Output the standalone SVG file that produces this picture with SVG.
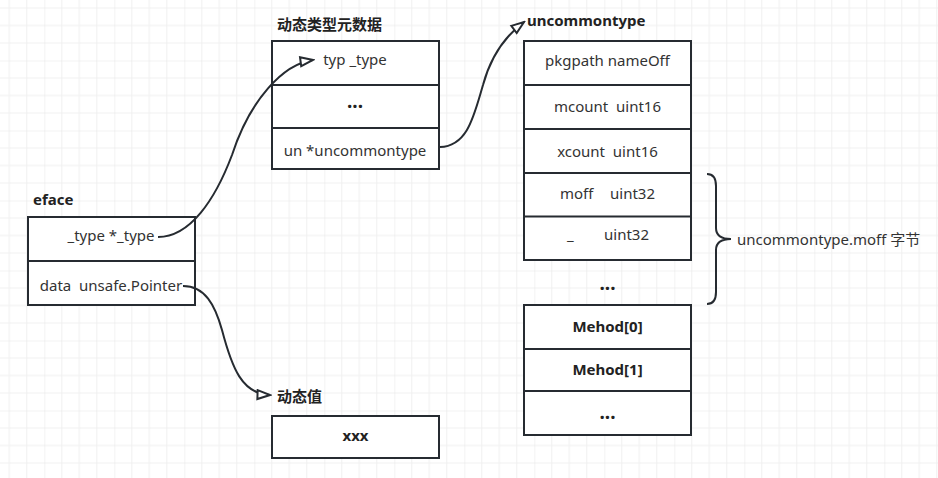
<svg xmlns="http://www.w3.org/2000/svg" width="938" height="478" viewBox="0 0 938 478">
  <defs>
    <pattern id="grid" x="-25.7" y="-9.5" width="70" height="70" patternUnits="userSpaceOnUse">
      <rect x="17" y="0" width="1" height="70" fill="#f0f0f0"/>
      <rect x="34.5" y="0" width="1" height="70" fill="#f0f0f0"/>
      <rect x="52" y="0" width="1" height="70" fill="#f0f0f0"/>
      <rect x="0" y="17" width="70" height="1" fill="#f0f0f0"/>
      <rect x="0" y="34.5" width="70" height="1" fill="#f0f0f0"/>
      <rect x="0" y="52" width="70" height="1" fill="#f0f0f0"/>
      <rect x="-0.5" y="0" width="1" height="70" fill="#e6e6e6"/>
      <rect x="0" y="-0.5" width="70" height="1" fill="#e6e6e6"/>
    </pattern>
    <marker id="arrow" viewBox="0 0 16 12" refX="14" refY="6" markerWidth="16" markerHeight="12" markerUnits="userSpaceOnUse" orient="auto">
      <path d="M1.5,1.5 L14,6 L1.5,10.5 Z" fill="#ffffff" stroke="#262b31" stroke-width="2" stroke-linejoin="miter"/>
    </marker>
    <style>
      .box { fill: #ffffff; stroke: #262b31; stroke-width: 2; }
      .div { stroke: #262b31; stroke-width: 2; fill: none; }
      .t { font-family: "Noto Sans", "Noto Sans CJK SC", sans-serif; font-size: 15px; fill: #333333; }
      .c { text-anchor: middle; }
      .b { font-weight: bold; fill: #222222; }
      .dots { font-size: 19px; }
      .conn { fill: none; stroke: #262b31; stroke-width: 2; }
    </style>
  </defs>

  <rect x="0" y="0" width="938" height="478" fill="#ffffff"/>
  <rect x="0" y="0" width="938" height="478" fill="url(#grid)"/>

  <g id="eface">
    <text class="t b" x="33" y="205">eface</text>
    <rect class="box" x="28" y="217" width="167" height="88"/>
    <line class="div" x1="28" y1="261" x2="195" y2="261"/>
    <text class="t c" x="111" y="241">_type *_type</text>
    <text class="t c" x="111" y="290.5" xml:space="preserve">data  unsafe.Pointer</text>
  </g>

  <g id="type-meta">
    <text class="t b" x="277" y="29.5">动态类型元数据</text>
    <rect class="box" x="272" y="41" width="167" height="128"/>
    <line class="div" x1="272" y1="85" x2="439" y2="85"/>
    <line class="div" x1="272" y1="128" x2="439" y2="128"/>
    <text class="t c" x="355" y="64.5">typ _type</text>
    <text class="t c b dots" x="355" y="108">...</text>
    <text class="t c" x="355" y="155.5">un *uncommontype</text>
  </g>

  <g id="uncommontype">
    <text class="t b" x="527" y="25.5">uncommontype</text>
    <rect class="box" x="524" y="41" width="167" height="219"/>
    <line class="div" x1="524" y1="85" x2="691" y2="85"/>
    <line class="div" x1="524" y1="129" x2="691" y2="129"/>
    <line class="div" x1="524" y1="173" x2="691" y2="173"/>
    <line class="div" x1="524" y1="216.5" x2="691" y2="216.5"/>
    <text class="t c" x="607.5" y="65.5">pkgpath nameOff</text>
    <text class="t c" x="607.5" y="112" xml:space="preserve">mcount  uint16</text>
    <text class="t c" x="607.5" y="157" xml:space="preserve">xcount  uint16</text>
    <text class="t" x="560" y="198.5">moff</text>
    <text class="t" x="610" y="198.5">uint32</text>
    <text class="t" x="567" y="240">_</text>
    <text class="t" x="604" y="240">uint32</text>
    <text class="t c b dots" x="607.5" y="289.5">...</text>
  </g>

  <g id="methods">
    <rect class="box" x="524" y="305" width="167" height="130"/>
    <line class="div" x1="524" y1="349" x2="691" y2="349"/>
    <line class="div" x1="524" y1="391" x2="691" y2="391"/>
    <text class="t c b" x="607.5" y="332">Mehod[0]</text>
    <text class="t c b" x="607.5" y="375">Mehod[1]</text>
    <text class="t c b dots" x="607.5" y="418.5">...</text>
  </g>

  <g id="brace">
    <path class="conn" d="M707,174 Q716,174 716,186 L716,228 Q716,239 731,239 Q716,239 716,250 L716,292 Q716,304 707,304"/>
    <text class="t" x="737" y="245">uncommontype.moff 字节</text>
  </g>

  <g id="value">
    <text class="t b" x="277" y="401.5">动态值</text>
    <rect class="box" x="272" y="416" width="167" height="42"/>
    <text class="t c b" x="355.5" y="440.5">xxx</text>
  </g>

  <g id="connectors">
    <path class="conn" d="M158,237 C190,237 215,200 232,155 C250,100 283,64 313,60" marker-end="url(#arrow)"/>
    <path class="conn" d="M440,147 C468,146 474,115 483,85 C492,52 508,34 524,22" marker-end="url(#arrow)"/>
    <path class="conn" d="M183,286 C205,286 215,305 222,330 C232,368 242,394 270,395" marker-end="url(#arrow)"/>
  </g>
</svg>
